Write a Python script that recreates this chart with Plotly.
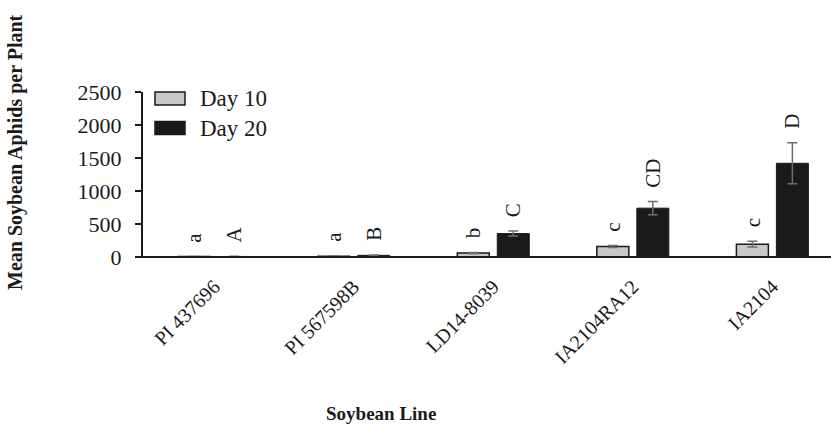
import plotly.graph_objects as go

categories = ["PI 437696", "PI 567598B", "LD14-8039", "IA2104RA12", "IA2104"]
day10 = [6, 12, 60, 160, 195]
day10_err = [2, 4, 10, 15, 42]
day20 = [8, 25, 355, 740, 1420]
day20_err = [3, 6, 38, 100, 310]
letters10 = ["a", "a", "b", "c", "c"]
letters20 = ["A", "B", "C", "CD", "D"]
yticks = [0, 500, 1000, 1500, 2000, 2500]

FONT = "Liberation Serif"
INK = "#1a1a1a"
xs = list(range(len(categories)))

fig = go.Figure()
fig.add_trace(go.Bar(
    x=xs, y=day10, name="Day 10",
    marker=dict(color="#c8c8c8", line=dict(color=INK, width=1.5)),
    error_y=dict(type="data", array=day10_err, color="#6e6e6e", thickness=1.5, width=5),
    showlegend=False,
))
fig.add_trace(go.Bar(
    x=xs, y=day20, name="Day 20",
    marker=dict(color=INK, line=dict(color=INK, width=1)),
    error_y=dict(type="data", array=day20_err, color="#6e6e6e", thickness=1.5, width=5),
    showlegend=False,
))

L, R, T, B = 143, 0, 92, 170
W, H = 831, 427
pw, ph = W - L - R, H - T - B
def px2paper(px, py):
    return (px - L) / pw, (H - B - py) / ph

off = 0.143
for i in xs:
    fig.add_annotation(x=i - off, y=day10[i] + day10_err[i], text=letters10[i], textangle=-90,
                       showarrow=False, yanchor="bottom", yshift=12, xref="x", yref="y",
                       font=dict(family=FONT, size=21, color=INK))
    fig.add_annotation(x=i + off, y=day20[i] + day20_err[i], text=letters20[i], textangle=-90,
                       showarrow=False, yanchor="bottom", yshift=12, xref="x", yref="y",
                       font=dict(family=FONT, size=21, color=INK))

# axis titles
ax, ay = px2paper(15, 152)
fig.add_annotation(x=ax, y=ay, xref="paper", yref="paper", text="<b>Mean Soybean Aphids per Plant</b>",
                   textangle=-90, showarrow=False, xanchor="center", yanchor="middle",
                   font=dict(family=FONT, size=20, color=INK))
bx, by = px2paper(381, 413)
fig.add_annotation(x=bx, y=by, xref="paper", yref="paper", text="<b>Soybean Line</b>", showarrow=False,
                   xanchor="center", yanchor="middle", font=dict(family=FONT, size=19, color=INK))

# custom legend
legend_items = [("Day 10", "#c8c8c8", 98.5), ("Day 20", INK, 128)]
shapes = []
for name, col, cy in legend_items:
    x0, y0 = px2paper(155, cy - 6.5)
    x1, y1 = px2paper(185, cy + 6.5)
    shapes.append(dict(type="rect", xref="paper", yref="paper", x0=x0, x1=x1, y0=y1, y1=y0,
                       fillcolor=col, line=dict(color=INK, width=1.5)))
    tx, ty = px2paper(198, cy)
    fig.add_annotation(x=tx, y=ty, xref="paper", yref="paper", text=name, showarrow=False,
                       xanchor="left", yanchor="middle", font=dict(family=FONT, size=23, color=INK))
# x axis line extending left past the y axis ticks
x0, _ = px2paper(136, 0)
shapes.append(dict(type="line", xref="paper", yref="paper", x0=x0, x1=1, y0=0, y1=0,
                   line=dict(color=INK, width=2)))
fig.update_layout(shapes=shapes)

fig.update_layout(
    width=W, height=H,
    margin=dict(l=L, r=R, t=T, b=B),
    paper_bgcolor="white", plot_bgcolor="white",
    barmode="group", bargap=0.427, bargroupgap=0.2,
    font=dict(family=FONT, color=INK),
    xaxis=dict(tickmode="array", tickvals=xs, ticktext=categories, range=[-0.51, 4.42],
               tickangle=-45, showline=False, ticks="", showgrid=False, zeroline=False,
               ticklabelstandoff=13,
               tickfont=dict(family=FONT, size=20, color=INK)),
    yaxis=dict(range=[0, 2500], tickvals=yticks, showline=True, linecolor=INK, linewidth=2,
               ticks="outside", ticklen=6, tickcolor=INK, tickwidth=2, showgrid=False,
               zeroline=False, ticklabelstandoff=9, tickfont=dict(family=FONT, size=22, color=INK)),
)

fig.write_html("out.html", config={"displayModeBar": False},
               post_script="document.body.style.margin='0';document.body.style.overflow='hidden';")
